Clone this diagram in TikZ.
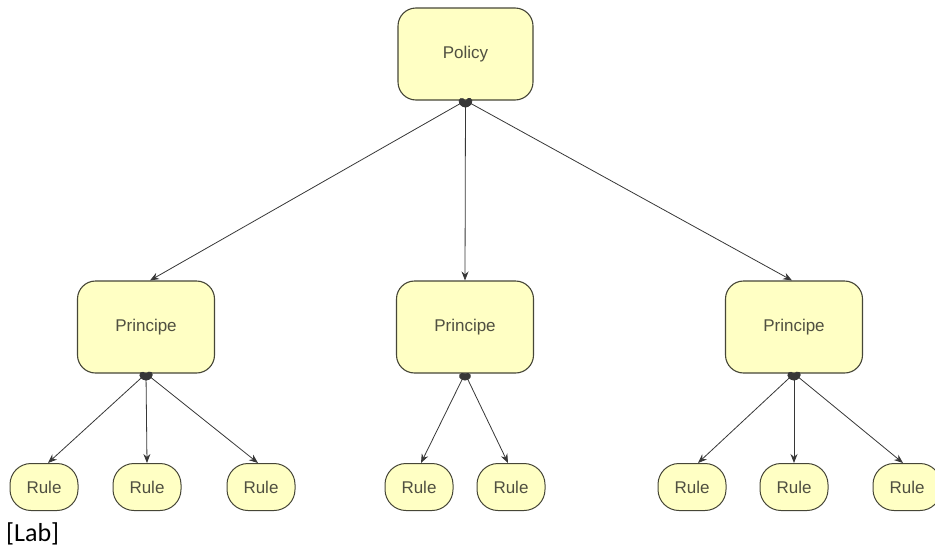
\documentclass[tikz,border=0pt]{standalone}
\usepackage{fontspec}
\setmainfont{Liberation Sans}
\newfontfamily\labfont{Carlito}
\usetikzlibrary{arrows.meta}
\definecolor{boxfill}{RGB}{255,255,196}
\definecolor{boxline}{RGB}{70,70,55}
\definecolor{boxtext}{RGB}{80,80,65}
\definecolor{arrowcol}{RGB}{55,55,55}
\begin{document}
\begin{tikzpicture}[x=1pt,y=-1pt,
  bigbox/.style={draw=boxline, line width=1.1pt, fill=boxfill, rounded corners=18pt,
    minimum width=135pt, minimum height=92pt, inner sep=0pt,
    font=\fontsize{17}{20}\selectfont, text=boxtext},
  rulebox/.style={draw=boxline, line width=1pt, fill=boxfill, rounded corners=21pt,
    minimum width=68pt, minimum height=47pt, inner sep=0pt,
    font=\fontsize{17}{20}\selectfont, text=boxtext},
  link/.style={draw=arrowcol, line width=0.8pt, {Circle[length=7pt,width=9pt]}-{Stealth[length=9pt,width=7pt]}}
]
\useasboundingbox (0,0) rectangle (935,549);
\node[bigbox] (pol) at (465.5,54) {Policy};
\node[bigbox, minimum width=137pt] (p1) at (146,327) {Principe};
\node[bigbox, minimum width=137pt] (p2) at (465,327) {Principe};
\node[bigbox, minimum width=137pt] (p3) at (794,327) {Principe};
\node[rulebox] (r1) at (44,487) {Rule};
\node[rulebox] (r2) at (147,487) {Rule};
\node[rulebox] (r3) at (261,487) {Rule};
\node[rulebox] (r4) at (419,487) {Rule};
\node[rulebox] (r5) at (511,487) {Rule};
\node[rulebox] (r6) at (692,487) {Rule};
\node[rulebox] (r7) at (794,487) {Rule};
\node[rulebox] (r8) at (907,487) {Rule};
\node[anchor=west, inner sep=0pt, font=\labfont\fontsize{26}{30}\selectfont] (lab) at (6,534) {[Lab]};
\draw[link] (pol.south) -- ([xshift=4pt]p1.north);
\draw[link] (pol.south) -- (p2.north);
\draw[link] (pol.south) -- ([xshift=-2pt]p3.north);
\draw[link] (p1.south) -- ([xshift=4pt]r1.north);
\draw[link] (p1.south) -- (r2.north);
\draw[link] (p1.south) -- ([xshift=-3pt]r3.north);
\draw[link] (p2.south) -- ([xshift=2pt]r4.north);
\draw[link] (p2.south) -- ([xshift=-3pt]r5.north);
\draw[link] (p3.south) -- ([xshift=6pt]r6.north);
\draw[link] (p3.south) -- (r7.north);
\draw[link] (p3.south) -- ([xshift=-4pt]r8.north);
\end{tikzpicture}
\end{document}
